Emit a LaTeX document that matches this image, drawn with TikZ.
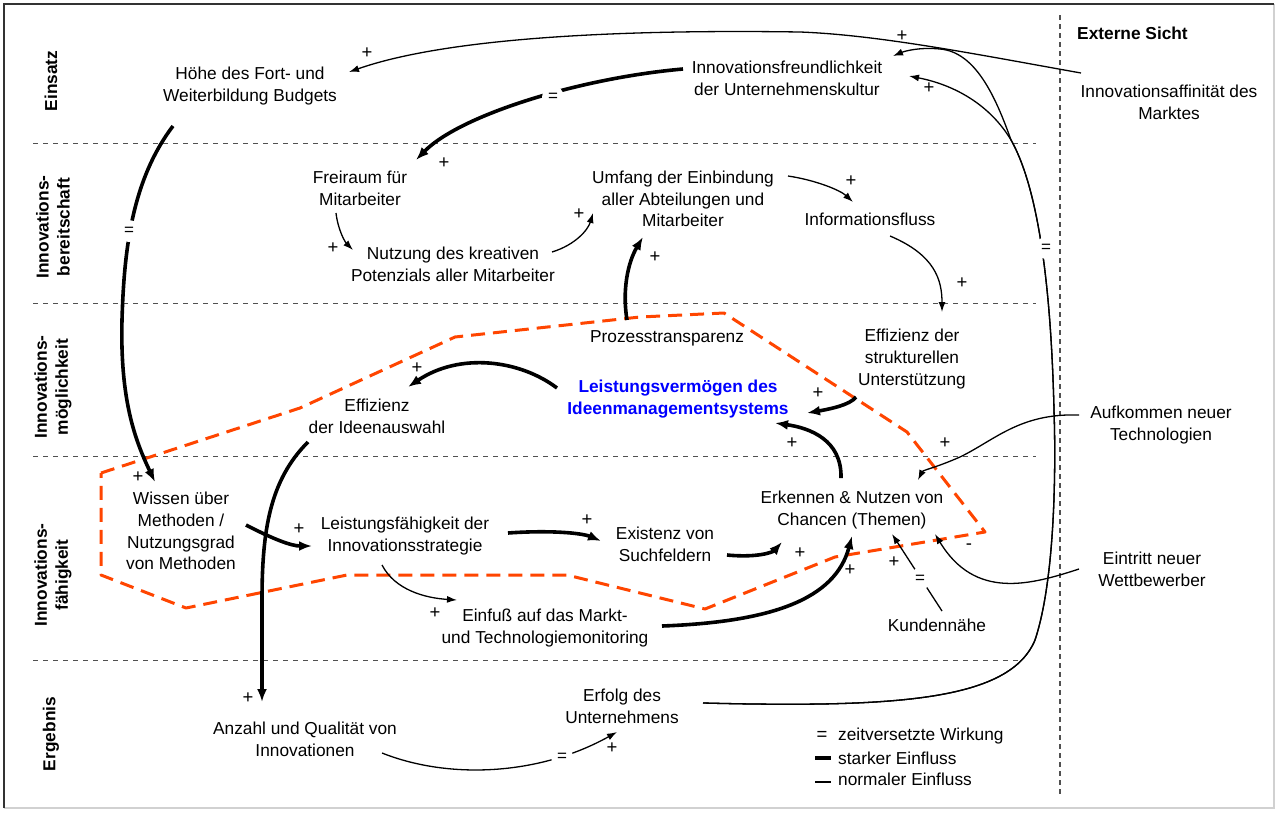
\documentclass[tikz,border=0pt]{standalone}
\usepackage{fontspec}
\setmainfont{Liberation Sans}
\usetikzlibrary{arrows.meta,calc}
\definecolor{zoneRed}{RGB}{255,69,0}
\definecolor{gridGray}{RGB}{80,80,80}

\tikzset{
  txt/.style={align=center, inner sep=0pt, font=\fontsize{17.3}{21.7}\selectfont},
  boldtxt/.style={txt, font=\bfseries\fontsize{17.3}{21.7}\selectfont},
  band/.style={rotate=90, align=center, inner sep=0pt, font=\bfseries\fontsize{17.3}{21}\selectfont},
  sgn/.style={inner sep=0pt, font=\fontsize{18.5}{18.5}\selectfont},
  eqs/.style={circle, fill=white, inner sep=0pt, minimum size=22pt, font=\fontsize{17}{17}\selectfont},
  weak/.style={line width=1.3pt, -{Latex[length=10pt,width=7pt]}},
  strong/.style={line width=3.6pt, -{Latex[length=13pt,width=10pt]}},
  divider/.style={gridGray, line width=1pt, dash pattern=on 5pt off 5pt},
  zone/.style={zoneRed, line width=3pt, dash pattern=on 14pt off 8pt, line join=round},
}

\begin{document}
\begin{tikzpicture}[x=1pt,y=-1pt]
\useasboundingbox (0,0) rectangle (1277,812);

% frame
\draw[line width=1.5pt, black!18] (4,808) -- (1274,808) -- (1274,4);
\draw[line width=2pt, black!80] (1274,4) -- (4,4) -- (4,808);

% band dividers and the external column
\draw[divider] (33,143) -- (1036,143);
\draw[divider] (33,303) -- (1036,303);
\draw[divider] (33,456) -- (1036,456);
\draw[divider] (33,660) -- (1020,660);
\draw[gridGray, line width=1.3pt, dash pattern=on 5pt off 4pt] (1060,15) -- (1060,797);

% band labels
\node[band] (bEinsatz) at (51,81) {Einsatz};
\node[band] (bBereit) at (53,227) {Innovations-\\bereitschaft};
\node[band] (bMoegl) at (53,387) {Innovations-\\möglichkeit};
\node[band] (bFaehig) at (53,575) {Innovations-\\fähigkeit};
\node[band] (bErgebnis) at (51,734) {Ergebnis};
\node[boldtxt, anchor=west] (extern) at (1077,33) {Externe Sicht};

% idea management zone
\draw[zone] (101,473) -- (300,408) -- (455,337) -- (640,317) -- (724,313)
  -- (907,432) -- (985,532) -- (835,557) -- (705,609) -- (567,575)
  -- (347,575) -- (186,608) -- (101,575) -- cycle;

% factors
\node[txt] (hoehe) at (250,86) {Höhe des Fort- und\\Weiterbildung Budgets};
\node[txt] (freund) at (787,78) {Innovationsfreundlichkeit\\der Unternehmenskultur};
\node[txt] (affin) at (1169,102) {Innovationsaffinität des\\Marktes};
\node[txt] (freiraum) at (360,188) {Freiraum für\\Mitarbeiter};
\node[txt] (nutzung) at (453,264) {Nutzung des kreativen\\Potenzials aller Mitarbeiter};
\node[txt] (umfang) at (683,199) {Umfang der Einbindung\\aller Abteilungen und\\Mitarbeiter};
\node[txt] (info) at (870,219) {Informationsfluss};
\node[txt] (prozess) at (667,338) {Prozesstransparenz};
\node[txt] (struktur) at (912,359) {Effizienz der\\strukturellen\\Unterstützung};
\node[boldtxt, text=blue] (leistung) at (678,399) {Leistungsvermögen des\\Ideenmanagementsystems};
\node[txt] (ideen) at (377,416) {Effizienz\\der Ideenauswahl};
\node[txt] (aufkommen) at (1161,425) {Aufkommen neuer\\Technologien};
\node[txt] (wissen) at (181,531) {Wissen über\\Methoden /\\Nutzungsgrad\\von Methoden};
\node[txt] (strategie) at (405,536) {Leistungsfähigkeit der\\Innovationsstrategie};
\node[txt] (such) at (665,544) {Existenz von\\Suchfeldern};
\node[txt] (erkennen) at (852,510) {Erkennen \& Nutzen von\\Chancen (Themen)};
\node[txt] (eintritt) at (1152,569) {Eintritt neuer\\Wettbewerber};
\node[txt] (einfluss) at (545,628) {Einfuß auf das Markt-\\und Technologiemonitoring};
\node[txt] (kunden) at (937,625) {Kundennähe};
\node[txt] (erfolg) at (622,706) {Erfolg des\\Unternehmens};
\node[txt] (anzahl) at (305,739) {Anzahl und Qualität von\\Innovationen};

% influences
\draw[weak] ([shift={(-88,-29)}]affin.center) .. controls (980,55) and (880,35) .. (800,32)
  .. controls (600,29) and (440,40) .. ([shift={(99,-14)}]hoehe.center);
\draw[weak] ([shift={(81,-3)}]erfolg.center) .. controls (900,708) and (1010,700) .. (1035,640)
  .. controls (1055,580) and (1056,470) .. (1054,410)
  .. controls (1052,330) and (1045,200) .. (1011,140)
  .. controls (995,95) and (975,52) .. (940,49)
  .. controls (920,47) and (905,51) .. ([shift={(106,-22)}]freund.center);
\draw[weak] ([shift={(81,-3)}]erfolg.center) .. controls (900,708) and (1010,700) .. (1035,640)
  .. controls (1055,580) and (1056,470) .. (1054,410)
  .. controls (1052,330) and (1045,200) .. (1011,140)
  .. controls (990,105) and (955,85) .. ([shift={(122,-2)}]freund.center);
\draw[strong] ([shift={(-104,-9)}]freund.center) .. controls (580,78) and (460,115) .. ([shift={(56,-28)}]freiraum.center);
\draw[strong] ([shift={(-77,40)}]hoehe.center) .. controls (132,180) and (124,250) .. (122,320)
  .. controls (120,400) and (135,440) .. ([shift={(-26,-49)}]wissen.center);
\draw[weak] ([shift={(-24,25)}]freiraum.center) .. controls (338,230) and (345,242) .. ([shift={(-100,-14)}]nutzung.center);
\draw[weak] ([shift={(99,-12)}]nutzung.center) .. controls (575,245) and (588,230) .. ([shift={(-90,14)}]umfang.center);
\draw[strong] ([shift={(-40,-18)}]prozess.center) .. controls (622,290) and (628,262) .. ([shift={(-40,38)}]umfang.center);
\draw[weak] ([shift={(105,-23)}]umfang.center) .. controls (815,180) and (840,190) .. ([shift={(-17,-17)}]info.center);
\draw[weak] ([shift={(20,17)}]info.center) .. controls (935,255) and (942,280) .. ([shift={(30,-47)}]struktur.center);
\draw[strong] ([shift={(-56,38)}]struktur.center) .. controls (850,405) and (830,409) .. ([shift={(129,14)}]leistung.center);
\draw[strong] ([shift={(-11,-32)}]erkennen.center) .. controls (842,440) and (810,428) .. ([shift={(97,24)}]leistung.center);
\draw[strong] ([shift={(-121,-11)}]leistung.center) .. controls (520,360) and (460,352) .. ([shift={(31,-29)}]ideen.center);
\draw[strong] ([shift={(-69,26)}]ideen.center) .. controls (270,480) and (262,530) .. (262,600) -- ([shift={(-43,-37)}]anzahl.center);
\draw[strong] ([shift={(65,-6)}]wissen.center) .. controls (275,540) and (292,546) .. ([shift={(-93,10)}]strategie.center);
\draw[strong] ([shift={(103,-3)}]strategie.center) .. controls (550,530) and (582,533) .. ([shift={(-64,-3)}]such.center);
\draw[strong] ([shift={(62,11)}]such.center) .. controls (758,558) and (773,552) .. ([shift={(-70,32)}]erkennen.center);
\draw[weak] ([shift={(-23,29)}]strategie.center) .. controls (395,590) and (425,598) .. ([shift={(-88,-28)}]einfluss.center);
\draw[strong] ([shift={(117,-2)}]einfluss.center) .. controls (770,622) and (835,600) .. ([shift={(0,26)}]erkennen.center);
\draw[weak] ([shift={(5,-14)}]kunden.center) -- ([shift={(40,24)}]erkennen.center);
\draw[weak] ([shift={(-82,-10)}]aufkommen.center) .. controls (1020,413) and (995,440) .. (960,457)
  .. controls (935,468) and (923,470) .. ([shift={(66,-30)}]erkennen.center);
\draw[weak] ([shift={(-73,0)}]eintritt.center) .. controls (1030,585) and (975,600) .. ([shift={(83,24)}]erkennen.center);
\draw[weak] ([shift={(77,14)}]anzahl.center) .. controls (450,780) and (540,775) .. ([shift={(-5,26)}]erfolg.center);

% delayed effects
\node[eqs] (d1) at (129,231) {=};
\node[eqs] (d2) at (553,97) {=};
\node[eqs] (d3) at (1046,248) {=};
\node[eqs] (d4) at (920,579) {=};
\node[eqs] (d5) at (562,757) {=};

% polarities
\node[sgn] (s1) at (367,53) {+};
\node[sgn] (s2) at (902,36) {+};
\node[sgn] (s3) at (929,88) {+};
\node[sgn] (s4) at (444,163) {+};
\node[sgn] (s5) at (138,477) {+};
\node[sgn] (s6) at (333,248) {+};
\node[sgn] (s7) at (579,214) {+};
\node[sgn] (s8) at (655,257) {+};
\node[sgn] (s9) at (851,181) {+};
\node[sgn] (s10) at (962,283) {+};
\node[sgn] (s11) at (818,393) {+};
\node[sgn] (s12) at (792,443) {+};
\node[sgn] (s13) at (417,368) {+};
\node[sgn] (s14) at (248,698) {+};
\node[sgn] (s15) at (299,529) {+};
\node[sgn] (s16) at (587,520) {+};
\node[sgn] (s17) at (800,553) {+};
\node[sgn] (s18) at (435,613) {+};
\node[sgn] (s19) at (850,570) {+};
\node[sgn] (s20) at (894,562) {+};
\node[sgn] (s21) at (945,443) {+};
\node[sgn] (s22) at (612,748) {+};
\node[sgn] (s23) at (969,547) {-};

% legend
\node[sgn] (lgEq) at (822,736) {=};
\node[txt, anchor=west] (lgA) at (838,736) {zeitversetzte Wirkung};
\draw[line width=3.6pt] (815,758) -- (831,758);
\node[txt, anchor=west] (lgB) at (838,758) {starker Einfluss};
\draw[line width=1.3pt] (815,782) -- (831,782);
\node[txt, anchor=west] (lgC) at (838,779) {normaler Einfluss};
\end{tikzpicture}
\end{document}
